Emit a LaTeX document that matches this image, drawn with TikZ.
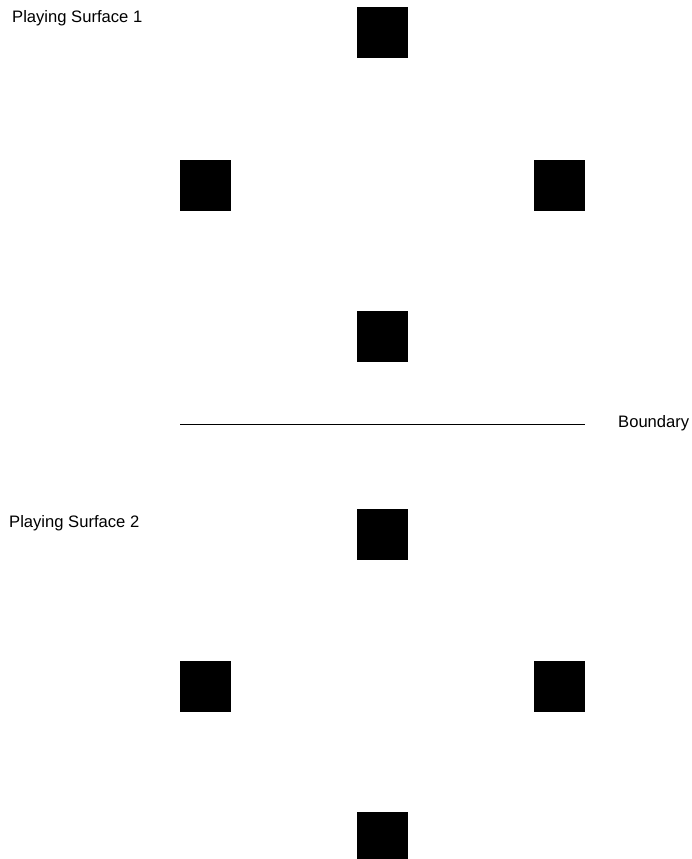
\documentclass[tikz,border=0pt]{standalone}
\usepackage{fontspec}
\setmainfont{Liberation Sans}
\usepackage{tikz}

\begin{document}
\begin{tikzpicture}[x=1pt,y=-1pt,
    base/.style={fill=black,minimum size=51pt,inner sep=0pt},
    lbl/.style={anchor=west,inner sep=0pt,font=\fontsize{16.6}{20}\selectfont}]
        \useasboundingbox (0,0) rectangle (691,859);
        % surface 1
        \node[lbl] (title1) at (12,18) {Playing Surface 1};
        \node[base] (top1) at (382.5,33) {};
        \node[base] (left1) at (205.5,185) {};
        \node[base] (right1) at (559,185) {};
        \node[base] (bot1) at (382.5,336.5) {};
        % boundary line
        \coordinate (bstart) at (180,424);
        \coordinate (bend) at (585,424);
        \draw[line width=0.9pt] (bstart) -- (bend);
        \node[lbl] (blabel) at (618,423) {Boundary};
        % surface 2
        \node[lbl] (title2) at (9,523) {Playing Surface 2};
        \node[base] (top2) at (382.5,534.5) {};
        \node[base] (left2) at (205.5,686.5) {};
        \node[base] (right2) at (559,686.5) {};
        \node[base] (bot2) at (382.5,837.5) {};
      \end{tikzpicture}
\end{document}
